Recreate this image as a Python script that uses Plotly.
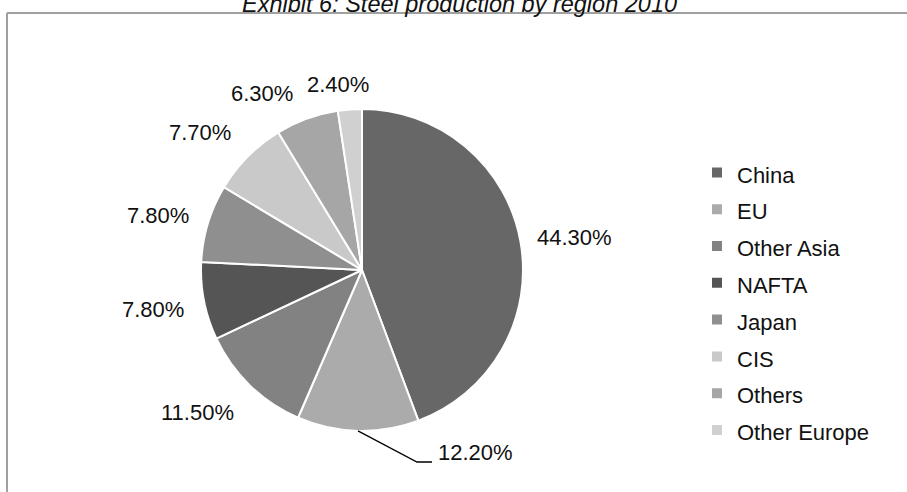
import math
import plotly.graph_objects as go

# ---- data ----
regions = ["China", "EU", "Other Asia", "NAFTA", "Japan", "CIS", "Others", "Other Europe"]
shares = [44.3, 12.2, 11.5, 7.8, 7.8, 7.7, 6.3, 2.4]
share_text = [f"{v:.2f}%" for v in shares]
title_text = "Exhibit 6: Steel production by region 2010"

# ---- styles / layout constants ----
colors = ["#676767", "#ababab", "#828282", "#555555", "#8f8f8f", "#c9c9c9", "#a6a6a6", "#d0d0d0"]
W, H = 907, 492
FONT = "Liberation Sans, Arial, sans-serif"
CX, CY, R = 362, 270, 161          # pie centre / radius in px
label_px = [(574, 237), (475, 452), (197, 412), (153, 309), (158, 216), (200, 132), (262, 94), (338, 84)]


def px(x):
    return x / W


def py(y):
    return 1 - y / H


legend_names = [f'<span style="font-size:22px">{r}</span>' for r in regions]

fig = go.Figure()
fig.add_trace(go.Pie(
    labels=legend_names,
    values=shares,
    sort=False,
    direction="clockwise",
    rotation=0,
    textinfo="none",
    hoverinfo="label+percent",
    marker=dict(colors=colors, line=dict(color="white", width=2)),
    domain=dict(x=[px(CX - R), px(CX + R)], y=[py(CY + R), py(CY - R)]),
))

annotations = []
for t, (lx, ly) in zip(share_text, label_px):
    annotations.append(dict(
        text=t, x=px(lx), y=py(ly), xref="paper", yref="paper",
        xanchor="center", yanchor="middle", showarrow=False,
        font=dict(family=FONT, size=22, color="#111111"),
    ))
annotations.append(dict(
    text=title_text, x=px(459), y=py(4), xref="paper", yref="paper",
    xanchor="center", yanchor="middle", showarrow=False,
    font=dict(family=FONT, size=23.5, color="#111111", style="italic"),
))

# leader line for the EU label, starting at the slice mid-angle on the rim
cum = sum(shares[:1]) + shares[1] / 2
ang = 2 * math.pi * cum / sum(shares)
sx, sy = CX + R * math.sin(ang), CY - R * math.cos(ang)
path = f"M {px(sx)} {py(sy)} L {px(417)} {py(462)} L {px(432)} {py(462)}"

shapes = [
    dict(type="path", xref="paper", yref="paper", path=path,
         line=dict(color="#000000", width=1.3)),
    dict(type="line", xref="paper", yref="paper",
         x0=px(7), y0=py(13), x1=1, y1=py(13),
         line=dict(color="#a0a0a0", width=2)),
    dict(type="line", xref="paper", yref="paper",
         x0=px(7), y0=py(13), x1=px(7), y1=0,
         line=dict(color="#a0a0a0", width=2)),
]

fig.update_layout(
    width=W, height=H,
    margin=dict(l=0, r=0, t=0, b=0, autoexpand=False),
    paper_bgcolor="white", plot_bgcolor="white",
    showlegend=True,
    legend=dict(
        x=px(697), y=py(149), xanchor="left", yanchor="top",
        font=dict(family=FONT, size=26, color="#111111"),
        bgcolor="rgba(0,0,0,0)", borderwidth=0,
    ),
    annotations=annotations,
    shapes=shapes,
)

fig.write_html(
    "out.html",
    config={"displayModeBar": False},
    post_script=(
        "document.body.style.margin='0';"
        "document.body.style.overflow='hidden';"
        "document.documentElement.style.overflow='hidden';"
    ),
)
